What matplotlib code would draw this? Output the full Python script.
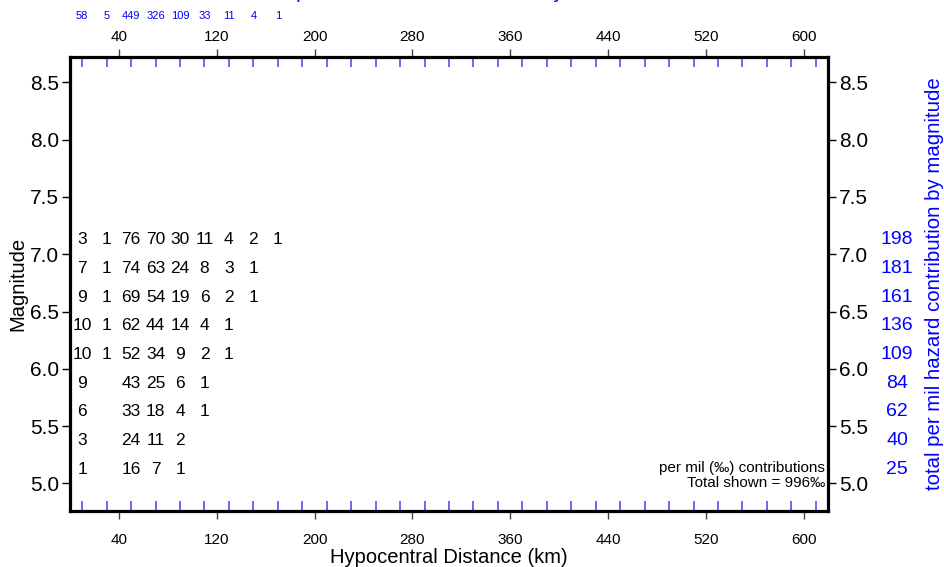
import matplotlib
matplotlib.use("Agg")
import matplotlib.pyplot as plt
import matplotlib.transforms as mtransforms
import numpy as np

plt.rcParams['font.family'] = ['Liberation Sans', 'DejaVu Sans']

# ---- data ----
dist_centers = [10, 30, 50, 70, 90, 110, 130, 150, 170]
mag_centers = [5.125, 5.375, 5.625, 5.875, 6.125, 6.375, 6.625, 6.875, 7.125]
# contributions per mil, rows = magnitude bins (bottom to top), cols = distance bins
row_5125 = [1, None, 16, 7, 1, None, None, None, None]
row_5375 = [3, None, 24, 11, 2, None, None, None, None]
row_5625 = [6, None, 33, 18, 4, 1, None, None, None]
row_5875 = [9, None, 43, 25, 6, 1, None, None, None]
row_6125 = [10, 1, 52, 34, 9, 2, 1, None, None]
row_6375 = [10, 1, 62, 44, 14, 4, 1, None, None]
row_6625 = [9, 1, 69, 54, 19, 6, 2, 1, None]
row_6875 = [7, 1, 74, 63, 24, 8, 3, 1, None]
row_7125 = [3, 1, 76, 70, 30, 11, 4, 2, 1]
mag_totals = [25, 40, 62, 84, 109, 136, 161, 181, 198]
dist_totals = [58, 5, 449, 326, 109, 33, 11, 4, 1]
total_shown = 996
x_ticks = [40, 120, 200, 280, 360, 440, 520, 600]
y_ticks = [5.0, 5.5, 6.0, 6.5, 7.0, 7.5, 8.0, 8.5]

rows = [row_5125, row_5375, row_5625, row_5875, row_6125,
        row_6375, row_6625, row_6875, row_7125]

fig = plt.figure(figsize=(9.45, 5.67), dpi=100)
ax = fig.add_axes([70/945, 1-511/567, (828-70)/945, (511-57)/567])
ax.set_xlim(0, 620)
ax.set_ylim(4.76, 8.72)

for sp in ax.spines.values():
    sp.set_linewidth(2.3)
    sp.set_color('black')

# major ticks (bottom)
ax.set_xticks(x_ticks)
ax.set_xticklabels([str(v) for v in x_ticks])
ax.set_yticks(y_ticks)
ax.set_yticklabels([f"{v:.1f}" for v in y_ticks])
ax.tick_params(axis='x', which='major', direction='out', length=6, width=1,
               color='#444444', labelsize=11, top=False, labeltop=False,
               bottom=True, labelbottom=True, pad=10)
ax.tick_params(axis='y', which='major', direction='out', length=6, width=1,
               labelsize=15, left=True, right=True, labelleft=True,
               labelright=True, pad=2)

# top axis with its own padding
secx = ax.secondary_xaxis('top')
secx.set_xticks(x_ticks)
secx.set_xticklabels([str(v) for v in x_ticks])
secx.tick_params(axis='x', which='major', direction='out', length=6, width=1,
                 color='#444444', labelsize=11, pad=3)
for sp in secx.spines.values():
    sp.set_visible(False)

# blue minor ticks at bin centres
ax.set_xticks(np.arange(10, 620, 20), minor=True)
ax.tick_params(axis='x', which='minor', direction='in', length=7, width=1.1,
               color='#4040ff', top=True, bottom=True)

# grid numbers
for m, row in zip(mag_centers, rows):
    for d, v in zip(dist_centers, row):
        if v is not None:
            ax.text(d, m, str(v), ha='center', va='center', fontsize=12.5,
                    color='black')

# right side totals by magnitude
tr_right = mtransforms.blended_transform_factory(fig.transFigure, ax.transData)
for m, t in zip(mag_centers, mag_totals):
    ax.text(897/945, m, str(t), transform=tr_right, ha='center', va='center',
            fontsize=14, color='blue', clip_on=False)

# top totals by distance
tr_top = mtransforms.blended_transform_factory(ax.transData, fig.transFigure)
for d, t in zip(dist_centers, dist_totals):
    ax.text(d, 1-16/567, str(t), transform=tr_top, ha='center', va='center',
            fontsize=8, color='blue', clip_on=False)

ax.set_xlabel('Hypocentral Distance (km)', fontsize=14.5, labelpad=0.5)
ax.set_ylabel('Magnitude', fontsize=14.5, labelpad=2)

fig.text(935/945, 0.5*(1-77/567) + 0.5*(1-490/567),
         'total per mil hazard contribution by magnitude', rotation=90,
         ha='center', va='center', fontsize=14.7, color='blue')
fig.text(449/945, 1 + 2/567, 'total per mil hazard contribution by distance',
         ha='center', va='baseline', fontsize=14.7, color='blue')

ax.text(0.996, 0.0947, 'per mil (\u2030) contributions', transform=ax.transAxes,
        ha='right', va='center', fontsize=11)
ax.text(0.996, 0.0617, f'Total shown = {total_shown}\u2030', transform=ax.transAxes,
        ha='right', va='center', fontsize=11)

fig.savefig('out.png', dpi=100)
